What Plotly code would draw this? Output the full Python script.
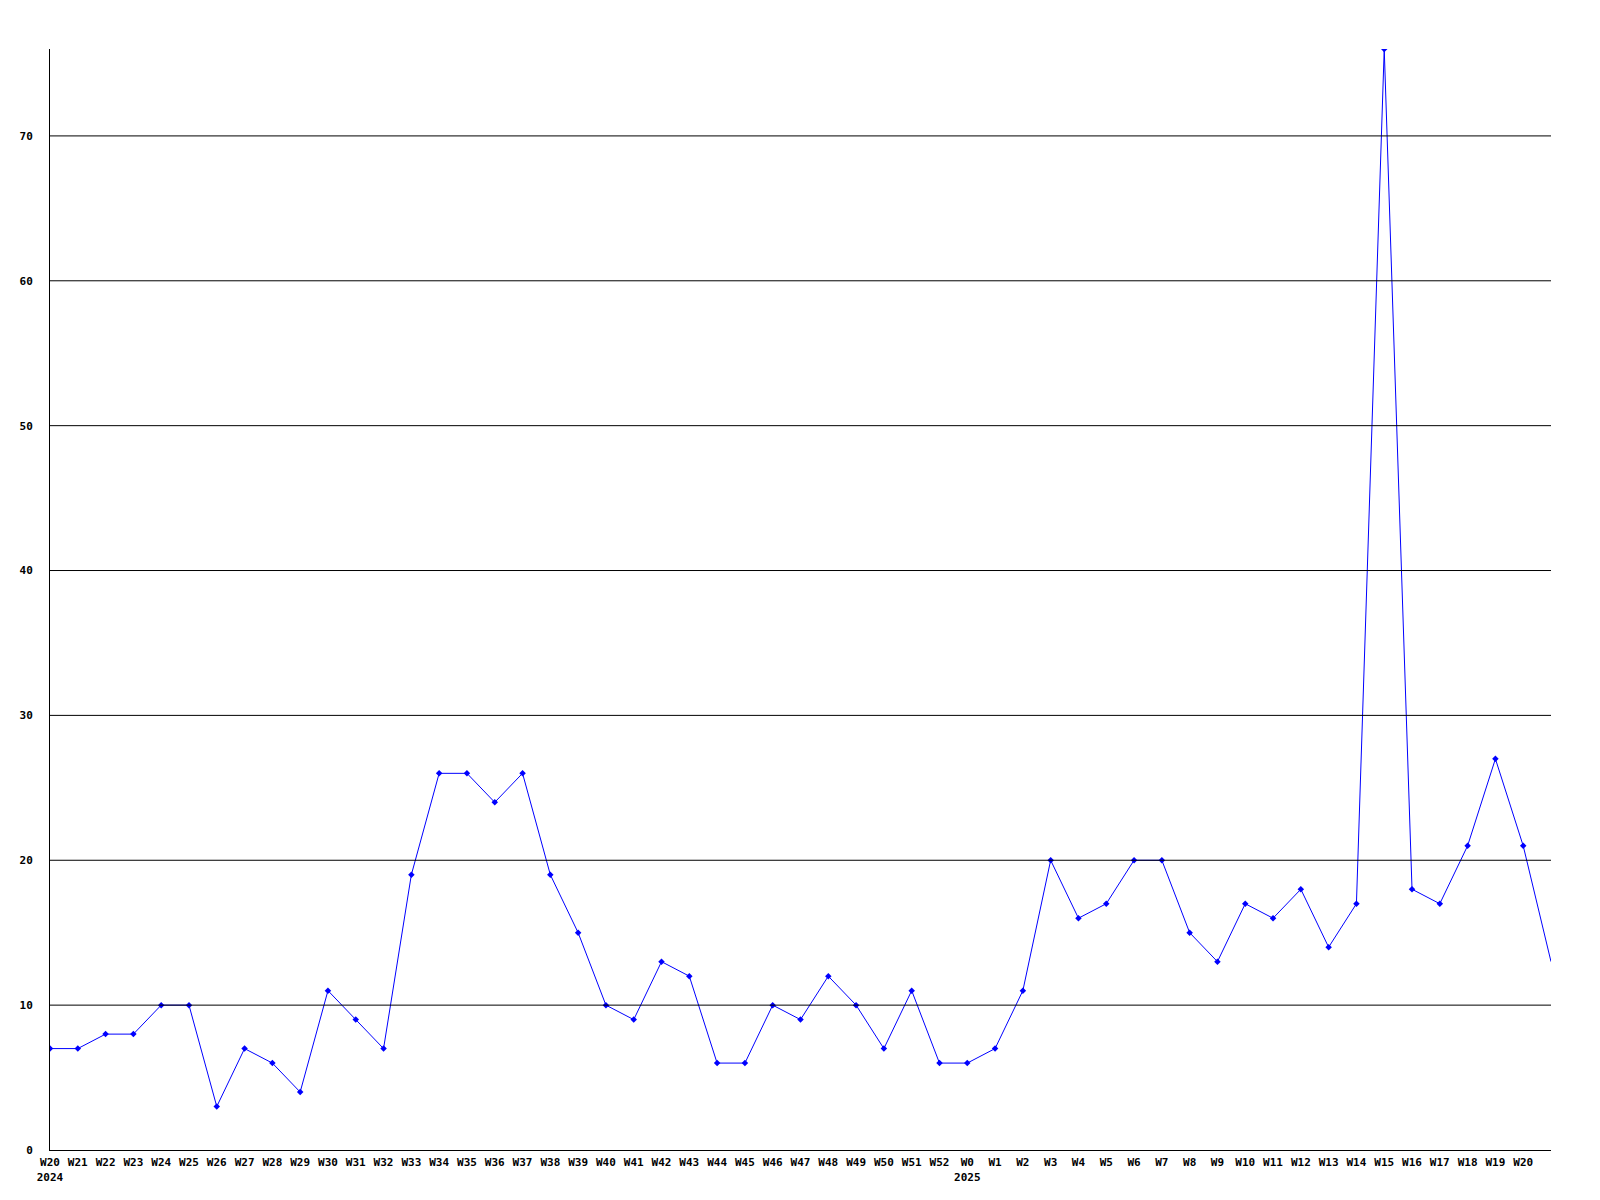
import plotly.graph_objects as go

weeks = (["W%d" % w for w in range(20, 53)] + ["W%d" % w for w in range(0, 21)])
years = {"W20_0": "2024", "W0_33": "2025"}
values = [7, 7, 8, 8, 10, 10, 3, 7, 6, 4, 11, 9, 7, 19, 26, 26, 24, 26, 19, 15,
          10, 9, 13, 12, 6, 6, 10, 9, 12, 10, 7, 11, 6, 6, 7, 11, 20, 16, 17, 20,
          20, 15, 13, 17, 16, 18, 14, 17, 76, 18, 17, 21, 27, 21]
last_value = 13  # trailing point at the right edge (no label, no marker)
y_ticks = [0, 10, 20, 30, 40, 50, 60, 70]

tick_text = []
for i, w in enumerate(weeks):
    key = "%s_%d" % (w, i)
    tick_text.append(w + ("<br>" + years[key] if key in years else ""))

xs = list(range(len(values)))
fig = go.Figure()
fig.add_trace(go.Scatter(
    x=xs + [len(values)], y=values + [last_value], mode="lines",
    line=dict(color="#0000ff", width=1), hoverinfo="skip", showlegend=False))
fig.add_trace(go.Scatter(
    x=xs, y=values, mode="markers",
    marker=dict(color="#0000ff", size=5, symbol="diamond"), showlegend=False))

for yv in y_ticks[1:]:
    fig.add_shape(type="line", xref="paper", x0=0, x1=1, yref="y", y0=yv, y1=yv,
                  line=dict(color="black", width=1), layer="above")

font = dict(family="DejaVu Sans Mono", size=11, color="black")
fig.update_layout(
    width=1600, height=1200, paper_bgcolor="white", plot_bgcolor="white",
    margin=dict(l=42, r=57, t=41, b=58),
    font=font,
    xaxis=dict(range=[0, len(values)], tickmode="array", tickvals=xs, ticktext=tick_text,
               showgrid=False, zeroline=False, showline=True, linecolor="black", linewidth=1,
               ticks="", ticklabelstandoff=2,
               tickfont=dict(family="DejaVu Sans Mono", size=11, color="black",
                             weight="bold")),
    yaxis=dict(range=[0, 76], tickmode="array", tickvals=y_ticks,
               showgrid=False, zeroline=False, showline=True, linecolor="black", linewidth=1,
               ticks="", ticklabelstandoff=14,
               tickfont=dict(family="DejaVu Sans Mono", size=11, color="black", weight="bold")),
)
fig.write_html("out.html")
